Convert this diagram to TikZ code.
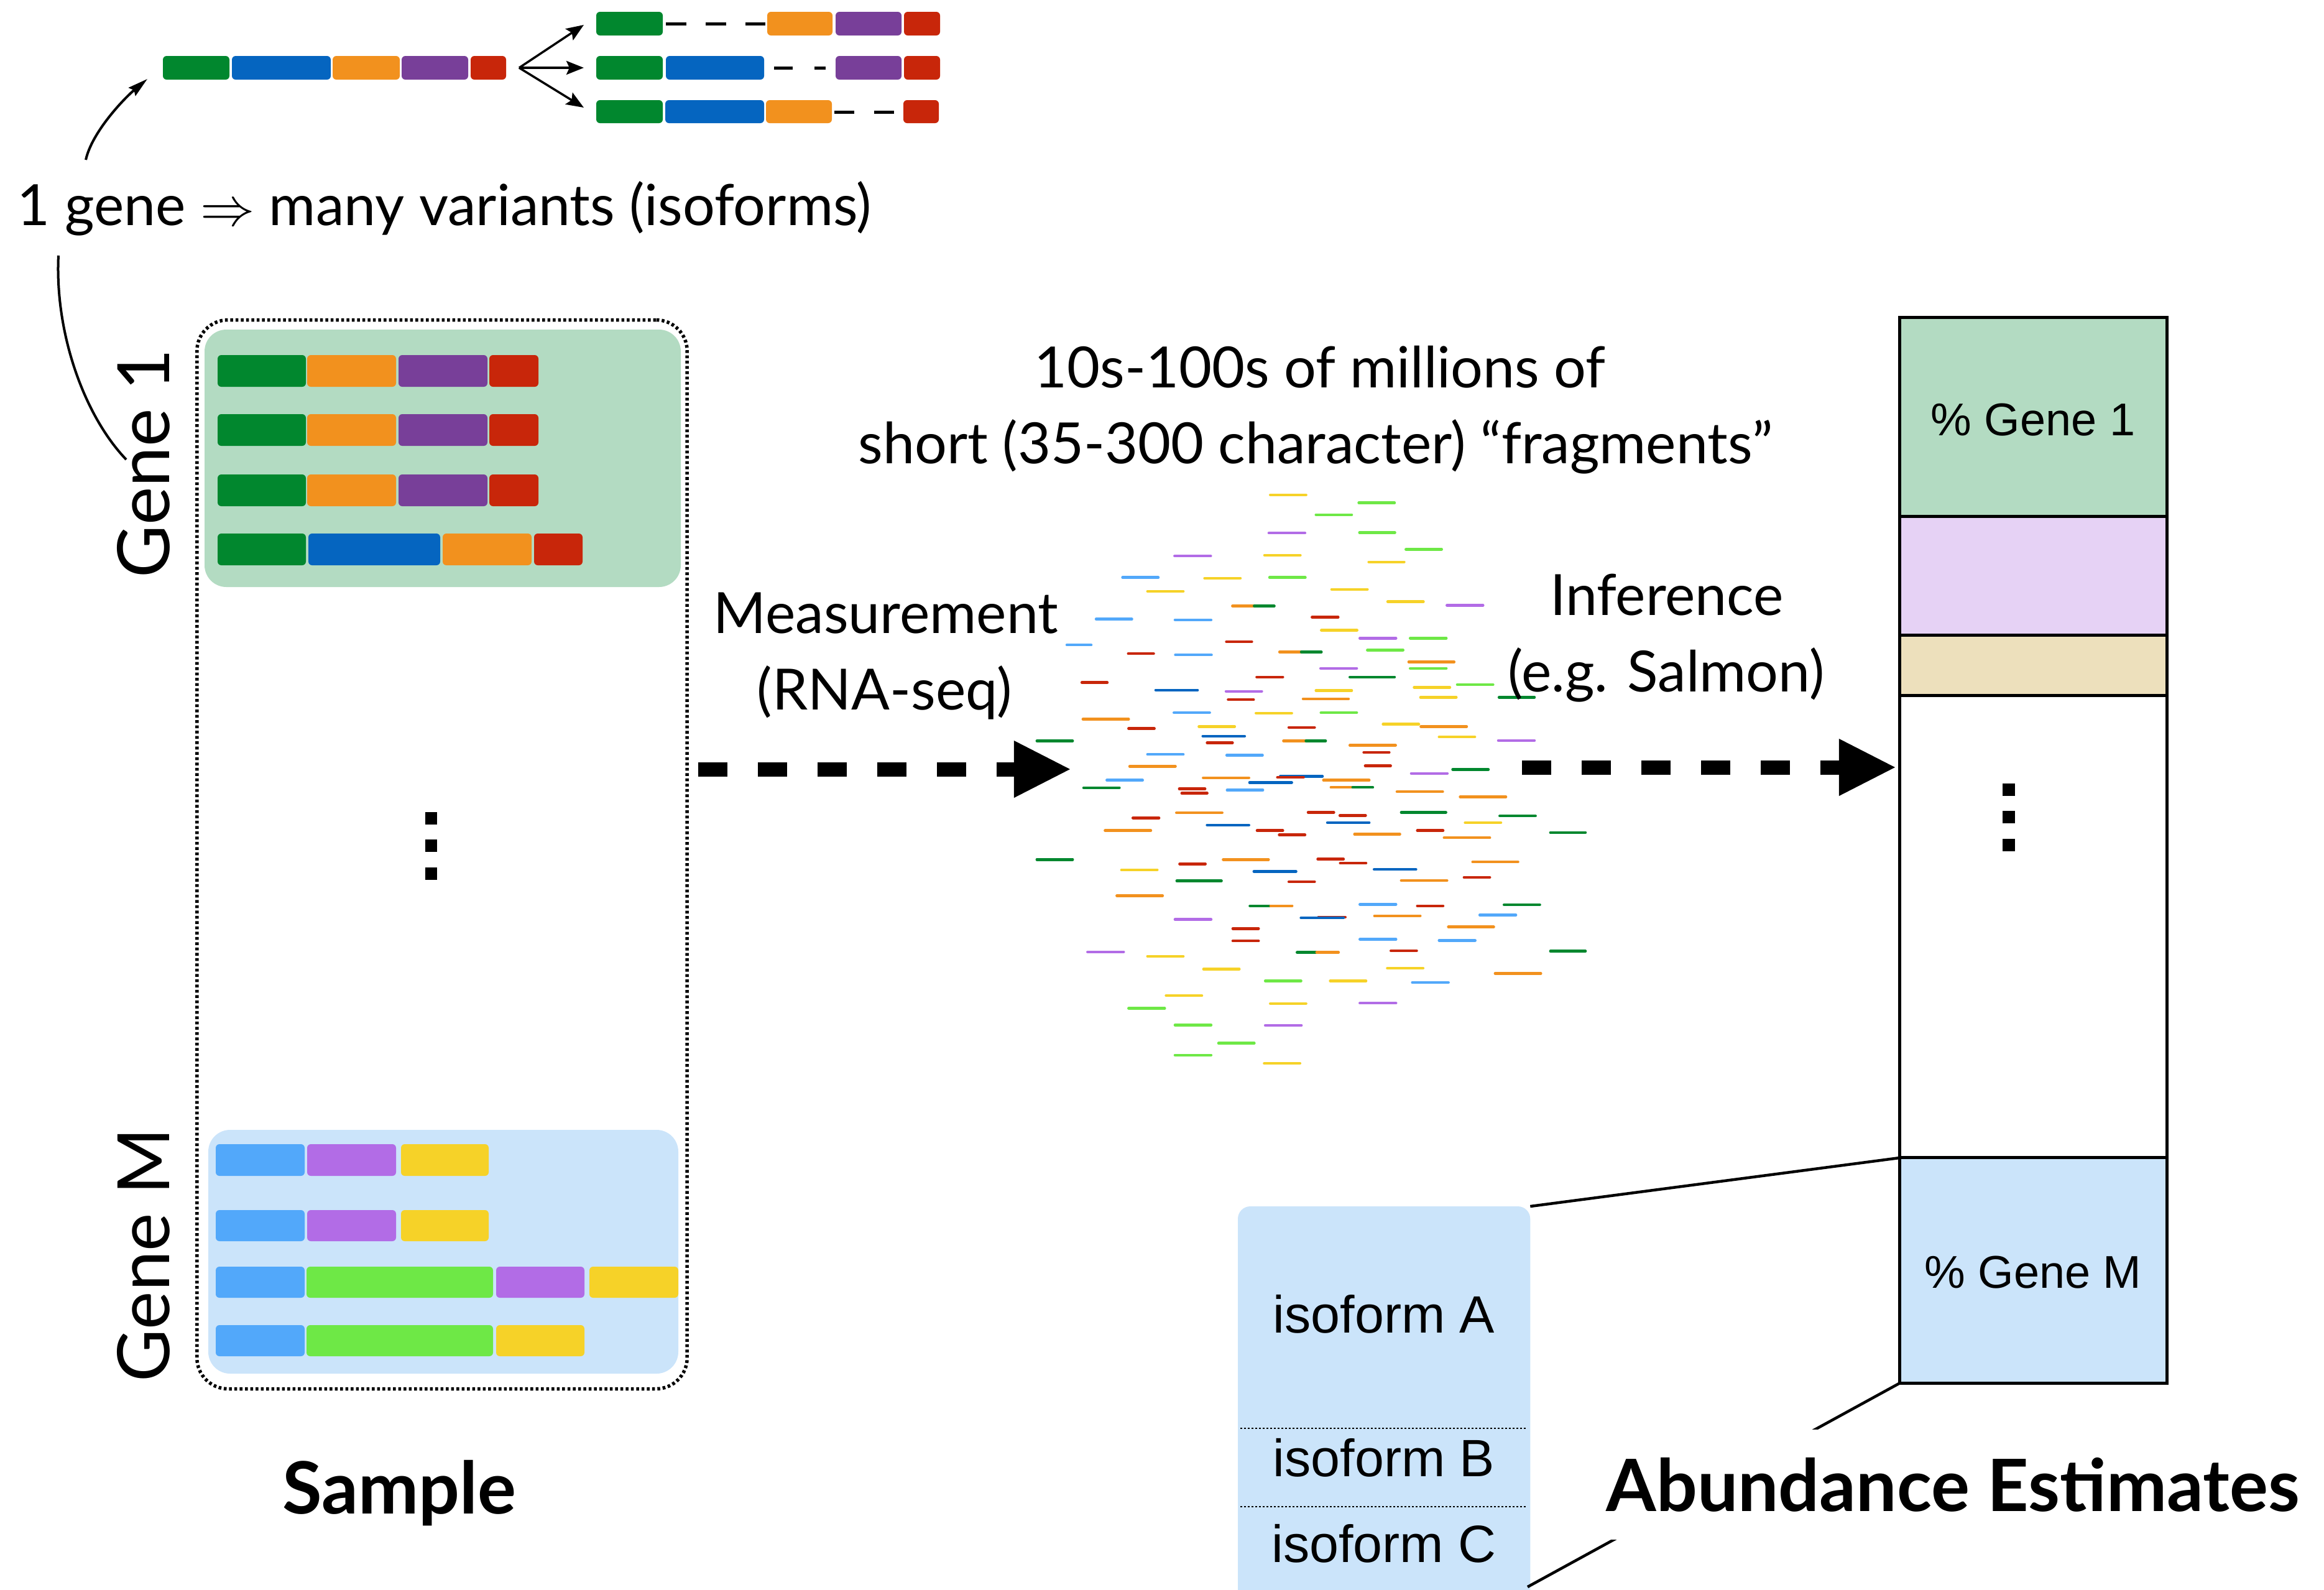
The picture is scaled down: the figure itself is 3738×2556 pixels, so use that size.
\documentclass[tikz,border=0pt]{standalone}
\usepackage{fontspec}
\setmainfont{Lato}
\newfontfamily\helvf{Liberation Sans}
\usetikzlibrary{arrows.meta}
\definecolor{cG}{HTML}{01872E}
\definecolor{cB}{HTML}{0565C0}
\definecolor{cO}{HTML}{F2911E}
\definecolor{cP}{HTML}{783F99}
\definecolor{cR}{HTML}{C8260A}
\definecolor{cLB}{HTML}{52A8FA}
\definecolor{cL}{HTML}{B26CE6}
\definecolor{cY}{HTML}{F6D228}
\definecolor{cLG}{HTML}{6EE846}
\definecolor{pGreen}{HTML}{B3DBC2}
\definecolor{pBlue}{HTML}{CBE4FA}
\definecolor{pLav}{HTML}{E6D2F5}
\definecolor{pTan}{HTML}{EDE0BC}
\newcommand\seg[5]{\fill[#1, rounded corners=0.06cm] (#2,#4) rectangle (#3,#5);}
\begin{document}
\begin{tikzpicture}[x=0.01cm, y=-0.01cm,
  lbl/.style={font=\fontsize{26}{31}\selectfont, inner sep=0pt, anchor=base},
  big/.style={font=\fontsize{33}{40}\selectfont, inner sep=0pt, anchor=base},
  ttl/.style={font=\bfseries\fontsize{33}{40}\selectfont, inner sep=0pt, anchor=base},
  hv/.style={font=\helvf\fontsize{21}{25}\selectfont, inner sep=0pt, anchor=base},
  hvi/.style={font=\helvf\fontsize{24}{29}\selectfont, inner sep=0pt, anchor=base},
  thinarrow/.style={line width=0.035cm, -{Stealth[length=0.28cm,width=0.22cm,inset=0.05cm]}},
  curvearrow/.style={line width=0.04cm, -{Stealth[length=0.32cm,width=0.17cm,inset=0.04cm]}},
  curveline/.style={line width=0.04cm},
  bigarrow/.style={line width=0.23cm, dash pattern=on 0.47cm off 0.49cm, -{Triangle[length=0.9cm,width=0.92cm,line width=0pt]}},
  exdash/.style={line width=0.05cm},
  frag/.style={line width=0.045cm, line cap=round},
  conn/.style={line width=0.045cm},
  isodot/.style={line width=0.025cm, dash pattern=on 0.03cm off 0.03cm},
  sbox/.style={draw, line width=0.055cm, dash pattern=on 0.045cm off 0.04cm, rounded corners=0.5cm, minimum width=7.88cm, minimum height=17.18cm, inner sep=0pt, outer sep=0pt},
  barsec/.style={draw=black, line width=0.05cm, minimum width=4.29cm, inner sep=0pt, outer sep=0pt},
]
\useasboundingbox (0,0) rectangle (3738,2556);
\clip (0,0) rectangle (3738,2556);

% ---------- top: gene and its variants ----------
\seg{cG}{262}{369}{90}{128}
\seg{cB}{373}{532}{90}{128}
\seg{cO}{535}{643}{90}{128}
\seg{cP}{646}{753}{90}{128}
\seg{cR}{757}{814}{90}{128}

\seg{cG}{959}{1066}{19}{57}
\seg{cO}{1234}{1339}{19}{57}
\seg{cP}{1344}{1450}{19}{57}
\seg{cR}{1454}{1512}{19}{57}
\draw[exdash, dash pattern=on 0.33cm off 0.31cm] (1071,38) -- (1231,38);

\seg{cG}{959}{1066}{90}{128}
\seg{cB}{1071}{1229}{90}{128}
\seg{cP}{1344}{1450}{90}{128}
\seg{cR}{1454}{1512}{90}{128}
\draw[exdash, dash pattern=on 0.30cm off 0.35cm] (1245,109) -- (1328,109);

\seg{cG}{959}{1066}{161}{198}
\seg{cB}{1070}{1229}{161}{198}
\seg{cO}{1232}{1338}{161}{198}
\seg{cR}{1453}{1510}{161}{198}
\draw[exdash, dash pattern=on 0.32cm off 0.32cm] (1342,180) -- (1438,180);

\coordinate (split) at (835,109);
\coordinate (v1) at (939,40);
\coordinate (v2) at (939,109);
\coordinate (v3) at (939,173);
\draw[thinarrow] (split) -- (v1);
\draw[thinarrow] (split) -- (v2);
\draw[thinarrow] (split) -- (v3);

\node[lbl] (onegene) at (715,362) {1 gene $\Rightarrow$ many variants (isoforms)};
\coordinate (cstart) at (138,257);
\coordinate (topbar) at (237,127);
\draw[curvearrow] (cstart) .. controls (148,212) and (200,158) .. (topbar);

% ---------- sample ----------
\node[sbox] (sample) at (711,1374) {};
\fill[pGreen, rounded corners=0.35cm] (329,530) rectangle (1095,944);
\fill[pBlue, rounded corners=0.35cm] (335,1817) rectangle (1091,2209);

\foreach \ya/\yb in {571/622, 666/717, 763/814} {
  \seg{cG}{350}{492}{\ya}{\yb}
  \seg{cO}{494}{637}{\ya}{\yb}
  \seg{cP}{641}{784}{\ya}{\yb}
  \seg{cR}{787}{866}{\ya}{\yb}
}
\seg{cG}{350}{492}{858}{909}
\seg{cB}{496}{708}{858}{909}
\seg{cO}{712}{855}{858}{909}
\seg{cR}{859}{937}{858}{909}

\foreach \ya/\yb in {1840/1891, 1946/1996} {
  \seg{cLB}{347}{490}{\ya}{\yb}
  \seg{cL}{494}{637}{\ya}{\yb}
  \seg{cY}{645}{786}{\ya}{\yb}
}
\seg{cLB}{347}{490}{2037}{2087}
\seg{cLG}{493}{793}{2037}{2087}
\seg{cL}{798}{940}{2037}{2087}
\seg{cY}{948}{1091}{2037}{2087}
\seg{cLB}{347}{490}{2131}{2181}
\seg{cLG}{493}{793}{2131}{2181}
\seg{cY}{798}{940}{2131}{2181}

\fill (684,1306) rectangle (703,1326);
\fill (684,1350) rectangle (703,1370);
\fill (684,1395) rectangle (703,1415);

\node[big, rotate=90] (gene1) at (272,745) {Gene 1};
\node[big, rotate=90] (geneM) at (272,2018) {Gene M};
\coordinate (c2start) at (94,411);
\coordinate (c2end) at (203,739);
\draw[curveline] (c2start) .. controls (88,535) and (135,668) .. (c2end);

\node[ttl] (samplelbl) at (642,2434) {Sample};

% ---------- fragments ----------
\begin{scope}[shift={(1650,750)}, xscale=0.574, yscale=0.638]
\foreach \c/\a/\b/\yy in {Y/685/785/72, LG/933/1033/92, LG/813/913/122, L/681/782/168, LG/935/1034/167, LG/1065/1165/209, L/417/518/226, Y/669/769/224, Y/961/1060/241, LB/271/371/280, Y/501/601/282, LG/683/783/280, Y/341/441/315, Y/857/957/310, Y/1014/1114/341, L/1180/1281/350, O/579/640/352, G/640/696/352, R/802/875/380, LB/197/297/385, LB/418/519/387, Y/828/928/413, LB/115/183/450, R/562/633/442, L/936/1037/433, LG/1077/1178/433, R/287/358/472, LB/419/520/475, O/711/772/468, G/772/828/468, LG/957/1057/463, O/1073/1200/493, LG/1077/1178/509, L/826/927/509, R/157/228/545, B/364/481/564, L/561/661/567, R/647/720/531, G/908/1033/531, R/567/638/588, Y/813/913/565, O/777/904/586, Y/1088/1188/557, LG/1209/1309/550, Y/1106/1206/582, G/1326/1425/582, LB/415/515/621, Y/645/745/622, LG/827/927/621, O/160/288/637, R/288/360/661, Y/485/585/656, R/737/809/658, Y/1001/1101/650, O/1107/1235/656, B/496/613/680, R/508/579/697, O/722/785/692, G/785/840/692, Y/1158/1258/682, L/1324/1425/691, G/31/131/692, O/908/1036/703, R/947/1018/721, LB/341/441/726, LB/563/663/728, O/291/419/756, R/951/1022/755, L/1080/1181/774, G/1196/1296/764, LB/227/327/791, O/497/625/785, B/713/831/781, R/705/778/784, B/627/745/797, O/834/962/791, G/162/262/810, R/430/502/813, R/437/508/824, LB/564/664/816, O/855/916/809, G/916/972/809, O/1040/1168/820, O/1217/1345/833, R/300/373/886, O/422/550/873, R/791/863/872, R/880/952/880, B/845/962/898, G/1052/1177/872, G/1328/1428/881, O/222/350/918, B/508/625/904, R/648/720/918, R/710/782/929, Y/1231/1331/898, O/921/1048/927, R/1097/1169/918, O/1172/1300/936, G/1470/1568/923, G/31/131/991, Y/268/368/1017, R/431/503/1002, O/553/680/991, R/818/890/990, R/881/953/1000, B/639/757/1021, B/976/1093/1016, O/1252/1379/997, G/423/548/1045, R/737/809/1047, O/1052/1180/1044, R/1228/1300/1036, O/255/383/1082, G/628/686/1108, O/686/746/1108, LB/936/1037/1104, R/1097/1169/1108, G/1340/1440/1105, L/418/519/1142, R/820/895/1136, B/771/890/1138, O/977/1105/1133, LB/1272/1373/1131, R/580/652/1165, O/1184/1311/1161, R/580/652/1196, LB/936/1037/1192, LB/1158/1259/1195, L/173/274/1224, Y/341/441/1235, G/760/815/1225, O/815/876/1225, R/1023/1095/1221, G/1470/1568/1222, Y/498/598/1267, Y/1013/1113/1265, O/1315/1443/1278, LG/671/771/1297, Y/853/953/1297, LB/1083/1184/1301, Y/393/493/1334, LG/288/389/1366, Y/685/785/1354, L/936/1037/1353, LG/418/519/1408, L/671/772/1409, LG/540/640/1454, LG/418/519/1484, Y/668/768/1505}
  \draw[frag, draw=c\c] (\a,\yy) -- (\b,\yy);
\end{scope}

\node[lbl] (l1) at (2123,623) {10s-100s of millions of};
\node[lbl] (l2) at (2116,745) {short (35-300 character) “fragments”};
\node[lbl] (meas) at (1425,1018) {Measurement};
\node[lbl] (rnaseq) at (1423,1141) {(RNA-seq)};
\node[lbl] (infer) at (2681,989) {Inference};
\node[lbl] (salmon) at (2680,1112) {(e.g. Salmon)};

% ---------- big dashed arrows ----------
\coordinate (a1s) at (1123,1237);
\coordinate (a1e) at (1721,1237);
\draw[bigarrow] (a1s) -- (a1e);
\coordinate (a2s) at (2448,1234);
\coordinate (a2e) at (3048,1234);
\draw[bigarrow] (a2s) -- (a2e);

% ---------- abundance bar ----------
\node[barsec, fill=pGreen, minimum height=3.20cm] (bg1) at (3270.5,671) {};
\node[barsec, fill=pLav, minimum height=1.91cm] (bp) at (3270.5,926.5) {};
\node[barsec, fill=pTan, minimum height=0.97cm] (bt) at (3270.5,1070.5) {};
\node[barsec, fill=white, minimum height=7.43cm] (bw) at (3270.5,1490.5) {};
\node[barsec, fill=pBlue, minimum height=3.62cm] (bgm) at (3270.5,2043) {};
\node[hv] (tg1) at (3270,700) {\% Gene 1};
\node[hv] (tgm) at (3270,2071) {\% Gene M};
\fill (3221,1260) rectangle (3241,1280);
\fill (3221,1304) rectangle (3241,1324);
\fill (3221,1349) rectangle (3241,1369);

% ---------- isoforms ----------
\node[fill=pBlue, rounded corners=0.2cm, minimum width=4.70cm, minimum height=6.60cm, anchor=north west, inner sep=0pt, outer sep=0pt] (iso) at (1991,1940) {};
\draw[isodot] (1995,2297) -- (2457,2297);
\draw[isodot] (1995,2423) -- (2457,2423);
\node[hvi] (isoA) at (2226,2143) {isoform A};
\node[hvi] (isoB) at (2226,2374) {isoform B};
\node[hvi] (isoC) at (2226,2512) {isoform C};

\draw[conn] (iso.north east) -- (bgm.north west);
\coordinate (isoend) at (2457,2552);
\draw[conn] (bgm.south west) -- (isoend);
\node[ttl, fill=white, inner xsep=0.03cm, inner ysep=0.45cm] (abund) at (3141,2430) {Abundance Estimates};
\end{tikzpicture}
\end{document}
